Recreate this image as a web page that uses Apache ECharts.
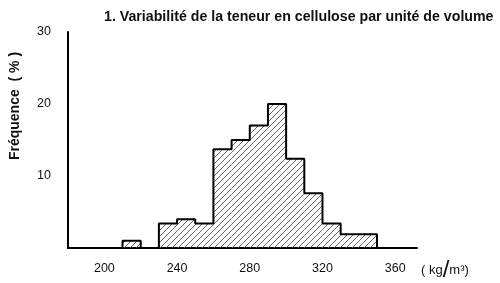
<!DOCTYPE html>
<html>
<head>
<meta charset="utf-8">
<script src="https://cdn.jsdelivr.net/npm/echarts@6/dist/echarts.min.js"></script>
<style>html,body{margin:0;padding:0;background:#fff}#c{width:500px;height:283px}</style>
</head>
<body>
<div id="c"></div>
<script>
const binStart = [210, 230, 240, 250, 260, 270, 280, 290, 300, 310, 320, 330, 340];
const binEnd   = [220, 240, 250, 260, 270, 280, 290, 300, 310, 320, 330, 340, 350];
const freq     = [1.0, 3.4, 4.0, 3.4, 13.7, 15.0, 17.0, 20.0, 12.4, 7.6, 3.4, 1.9, 1.9];
const xTickLabels = [200, 240, 280, 320, 360];
const yTickLabels = [10, 20, 30];

// hatch pattern
const pc = document.createElement('canvas');
pc.width = 6; pc.height = 6;
const g = pc.getContext('2d');
g.strokeStyle = '#555'; g.lineWidth = 0.9;
g.beginPath();
g.moveTo(0, 6); g.lineTo(6, 0);
g.moveTo(-1, 1); g.lineTo(1, -1);
g.moveTo(5, 7); g.lineTo(7, 5);
g.stroke();

// outline segments
const segments = [];
let cur = null;
for (let i = 0; i < freq.length; i++) {
  if (i === 0 || binStart[i] !== binEnd[i - 1]) {
    if (cur) { cur.push([binEnd[i - 1], 0]); segments.push(cur); }
    cur = [[binStart[i], 0]];
  }
  cur.push([binStart[i], freq[i]], [binEnd[i], freq[i]]);
}
cur.push([binEnd[freq.length - 1], 0]); segments.push(cur);

const barData = freq.map((f, i) => [binStart[i], binEnd[i], f]);

const chart = echarts.init(document.getElementById('c'), null, {renderer: 'canvas'});
const series = [{
  type: 'custom',
  data: barData,
  encode: {x: [0, 1], y: 2},
  renderItem: function (params, api) {
    const p0 = api.coord([api.value(0), api.value(2)]);
    const p1 = api.coord([api.value(1), 0]);
    return {
      type: 'rect',
      shape: {x: p0[0], y: p0[1], width: p1[0] - p0[0], height: p1[1] - p0[1]},
      style: {fill: {image: pc, repeat: 'repeat'}, stroke: null}
    };
  },
  silent: true
}];
segments.forEach(s => series.push({
  type: 'line', data: s, symbol: 'none', silent: true,
  lineStyle: {color: '#000', width: 2}, z: 5
}));

chart.setOption({
  animation: false,
  title: {
    text: '1. Variabilité de la teneur en cellulose par unité de volume',
    left: 99, top: 5,
    textStyle: {fontFamily: 'Liberation Sans', fontSize: 14.2, fontWeight: 'bold', color: '#111'}
  },
  grid: {left: 67, right: 83, top: 32, bottom: 35},
  xAxis: {
    type: 'value', min: 180, max: 372, interval: 20,
    splitLine: {show: false},
    axisTick: {show: false},
    axisLine: {lineStyle: {color: '#000', width: 2}},
    axisLabel: {
      margin: 14, color: '#111', fontFamily: 'Liberation Sans', fontSize: 12.5,
      formatter: v => xTickLabels.includes(v) ? String(v) : ''
    },
    name: '{a|( kg}{s|/}{a|m³)}', nameLocation: 'end', nameGap: 4,
    nameTextStyle: {
      verticalAlign: 'top', padding: [10, 0, 0, 0],
      rich: {
        a: {fontFamily: 'Liberation Sans', fontSize: 13, color: '#111'},
        s: {fontFamily: 'Liberation Sans', fontSize: 24, color: '#111'}
      }
    }
  },
  yAxis: {
    type: 'value', min: 0, max: 30, interval: 10,
    splitLine: {show: false},
    axisTick: {show: false},
    axisLine: {show: true, lineStyle: {color: '#000', width: 2}},
    axisLabel: {
      margin: 17, color: '#111', fontFamily: 'Liberation Sans', fontSize: 12.5,
      formatter: v => yTickLabels.includes(v) ? String(v) : ''
    },
    name: 'Fréquence  ( % )', nameLocation: 'middle', nameGap: 46, nameRotate: 90,
    nameTextStyle: {fontFamily: 'Liberation Sans', fontSize: 14, fontWeight: 'bold', color: '#111', padding: [0, 0, 0, 68]}
  },
  series: series
});
</script>
</body>
</html>
